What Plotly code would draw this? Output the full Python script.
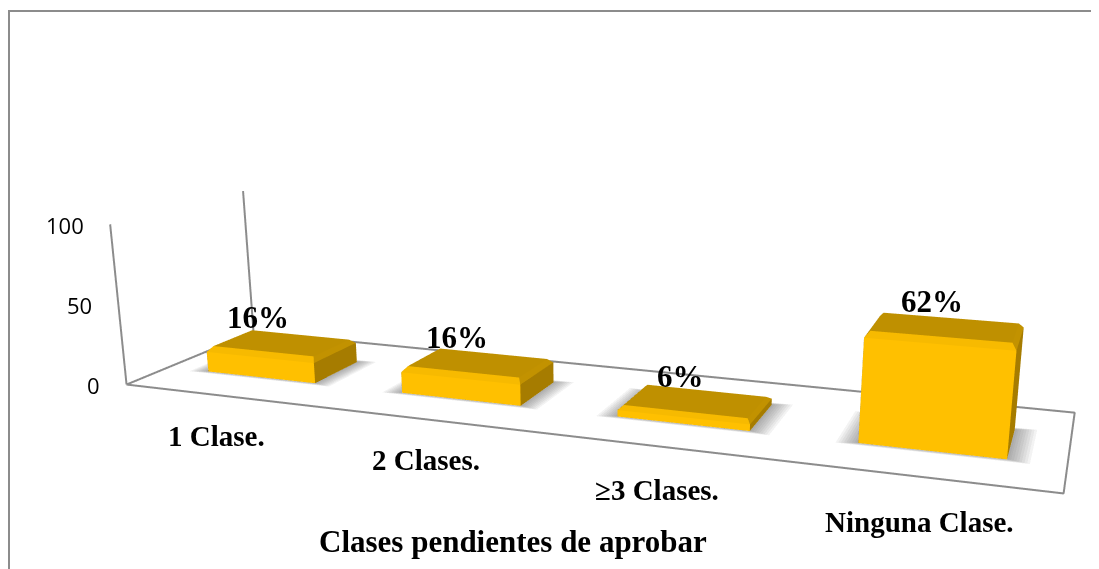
import numpy as np
import plotly.graph_objects as go

categories = ["1 Clase.", "2 Clases.", "≥3 Clases.", "Ninguna Clase."]
values = [16, 16, 6, 62]
z_ticks = [0, 50, 100]
axis_title = "Clases pendientes de aprobar"

# text centres in page pixels
tick_pos = [(93, 385), (79, 305), (65, 225)]
label_pos = [(258, 317), (457, 337), (680, 376), (932, 301)]
category_pos = [(216, 436), (426, 460), (657, 490), (919, 522)]
title_pos = (513, 541)

# the page body has an 8px margin, so the figure starts at (8, 8)
W, H = 1091, 561
OFFSET = 8
FRONT, SIDE, TOP = "#FFC000", "#A67C00", "#BF9000"
FRONT_EDGE, SIDE_EDGE = "#F7BA00", "#C29200"
LINE = "#8C8C8C"

# bar footprint, category and depth units
BAR_W, Y0, Y1 = 0.5638, 0.3025, 0.6757
# the chart's 3D look leans the axes, plotly's camera has a fixed lens, so lean the data
LEAN_XY, LEAN_XZ, LEAN_YZ = 0.2961, -0.0493, 0.3818
ASPECT_Y, ASPECT_Z = 0.5742, 0.7214
SPAN = 8.0
SHADOW_GROW = [0.085, 0.075, 0.065, 0.055, 0.045, 0.035, 0.025, 0.015, 0.008]


def lean(x, y, z):
    x, y, z = np.asarray(x, float), np.asarray(y, float), np.asarray(z, float)
    return x + LEAN_XY * y + LEAN_XZ * z / 100, y + LEAN_YZ * z / 100, z


def bar_mesh(i, v):
    x0, x1 = i + 0.5 - BAR_W / 2, i + 0.5 + BAR_W / 2
    b = min(3, v * 0.35)
    bx, by = 0.018, 0.03
    xs = [x0, x1, x1, x0] * 2 + [x0 + bx, x1 - bx, x1 - bx, x0 + bx]
    ys = [Y0, Y0, Y1, Y1] * 2 + [Y0 + by, Y0 + by, Y1 - by, Y1 - by]
    zs = [0] * 4 + [v - b] * 4 + [v] * 4
    faces = [
        (0, 1, 5, FRONT), (0, 5, 4, FRONT), (1, 2, 6, SIDE), (1, 6, 5, SIDE),
        (2, 3, 7, SIDE), (2, 7, 6, SIDE), (3, 0, 4, SIDE), (3, 4, 7, SIDE),
        (4, 5, 9, FRONT_EDGE), (4, 9, 8, FRONT_EDGE), (5, 6, 10, SIDE_EDGE), (5, 10, 9, SIDE_EDGE),
        (6, 7, 11, TOP), (6, 11, 10, TOP), (7, 4, 8, TOP), (7, 8, 11, TOP),
        (8, 9, 10, TOP), (8, 10, 11, TOP),
    ]
    sx, sy, sz = lean(xs, ys, zs)
    return go.Mesh3d(
        x=sx, y=sy, z=sz,
        i=[f[0] for f in faces], j=[f[1] for f in faces], k=[f[2] for f in faces],
        facecolor=[f[3] for f in faces],
        flatshading=True,
        lighting=dict(ambient=1, diffuse=0, specular=0, fresnel=0),
        hoverinfo="skip",
    )


def shadow_mesh(i, grow, z):
    x0, x1 = i + 0.5 - BAR_W / 2 - grow, i + 0.5 + BAR_W / 2 + grow
    y0, y1 = Y0 - grow * 0.3, Y1 + grow * 0.4
    sx, sy, sz = lean([x0, x1, x1, x0], [y0, y0, y1, y1], [z] * 4)
    return go.Mesh3d(
        x=sx, y=sy, z=sz, i=[0, 0], j=[1, 2], k=[2, 3],
        color="#505050", opacity=0.07, flatshading=True,
        lighting=dict(ambient=1, diffuse=0, specular=0, fresnel=0),
        hoverinfo="skip",
    )


fig = go.Figure()

for i, v in enumerate(values):
    fig.add_trace(bar_mesh(i, v))

n = len(categories)
top = z_ticks[-1]
# walls' back and front uprights, then the floor outline
line_segments = [
    ([0, 0], [0, 0], [top, 0]),
    ([0, 0], [1, 1], [top, 0]),
    ([0, n, n, 0, 0], [0, 0, 1, 1, 0], [0, 0, 0, 0, 0]),
]
for lx, ly, lz in line_segments:
    sx, sy, sz = lean(lx, ly, lz)
    fig.add_trace(go.Scatter3d(x=sx, y=sy, z=sz, mode="lines",
                               line=dict(color=LINE, width=4), hoverinfo="skip"))

for i in range(n):
    for k, grow in enumerate(SHADOW_GROW):
        fig.add_trace(shadow_mesh(i, grow, 0.03 + k * 0.03))

hidden = dict(visible=False)
fig.update_layout(
    width=W, height=H, showlegend=False, paper_bgcolor="white",
    margin=dict(l=0, r=0, t=0, b=0),
    scene=dict(
        domain=dict(x=[0, 1], y=[0, 1]),
        xaxis=dict(range=[2 - SPAN / 2, 2 + SPAN / 2], **hidden),
        yaxis=dict(range=[0.5 - SPAN / 2, 0.5 + SPAN / 2], **hidden),
        zaxis=dict(range=[0, top], **hidden),
        aspectmode="manual",
        aspectratio=dict(x=SPAN, y=ASPECT_Y * SPAN, z=ASPECT_Z),
        camera=dict(
            eye=dict(x=0.4805, y=-2.5707, z=1.4209),
            center=dict(x=-0.0131, y=0.0734, z=0.1468),
            up=dict(x=0, y=0, z=1),
        ),
    ),
)


def px(x):
    return (x - OFFSET) / W


def py(y):
    return 1 - (y - OFFSET) / H


def add_text(text, pos, size, family="Liberation Serif", bold=True):
    fig.add_annotation(
        text="<b>%s</b>" % text if bold else text,
        xref="paper", yref="paper", x=px(pos[0]), y=py(pos[1]),
        xanchor="center", yanchor="middle", showarrow=False,
        font=dict(family=family, size=size, color="black"),
    )


for t, pos in zip(z_ticks, tick_pos):
    add_text(str(t), pos, 22, family="Open Sans", bold=False)
for v, pos in zip(values, label_pos):
    add_text("%d%%" % v, pos, 31)
for c, pos in zip(categories, category_pos):
    add_text(c, pos, 29)
add_text(axis_title, title_pos, 31)

# chart frame, only its top and left edges are in the picture
fig.add_shape(type="line", xref="paper", yref="paper", x0=px(9), x1=1, y0=py(11), y1=py(11),
              line=dict(color=LINE, width=2))
fig.add_shape(type="line", xref="paper", yref="paper", x0=px(9), x1=px(9), y0=py(10), y1=0,
              line=dict(color=LINE, width=2))

fig.write_html("out.html")
